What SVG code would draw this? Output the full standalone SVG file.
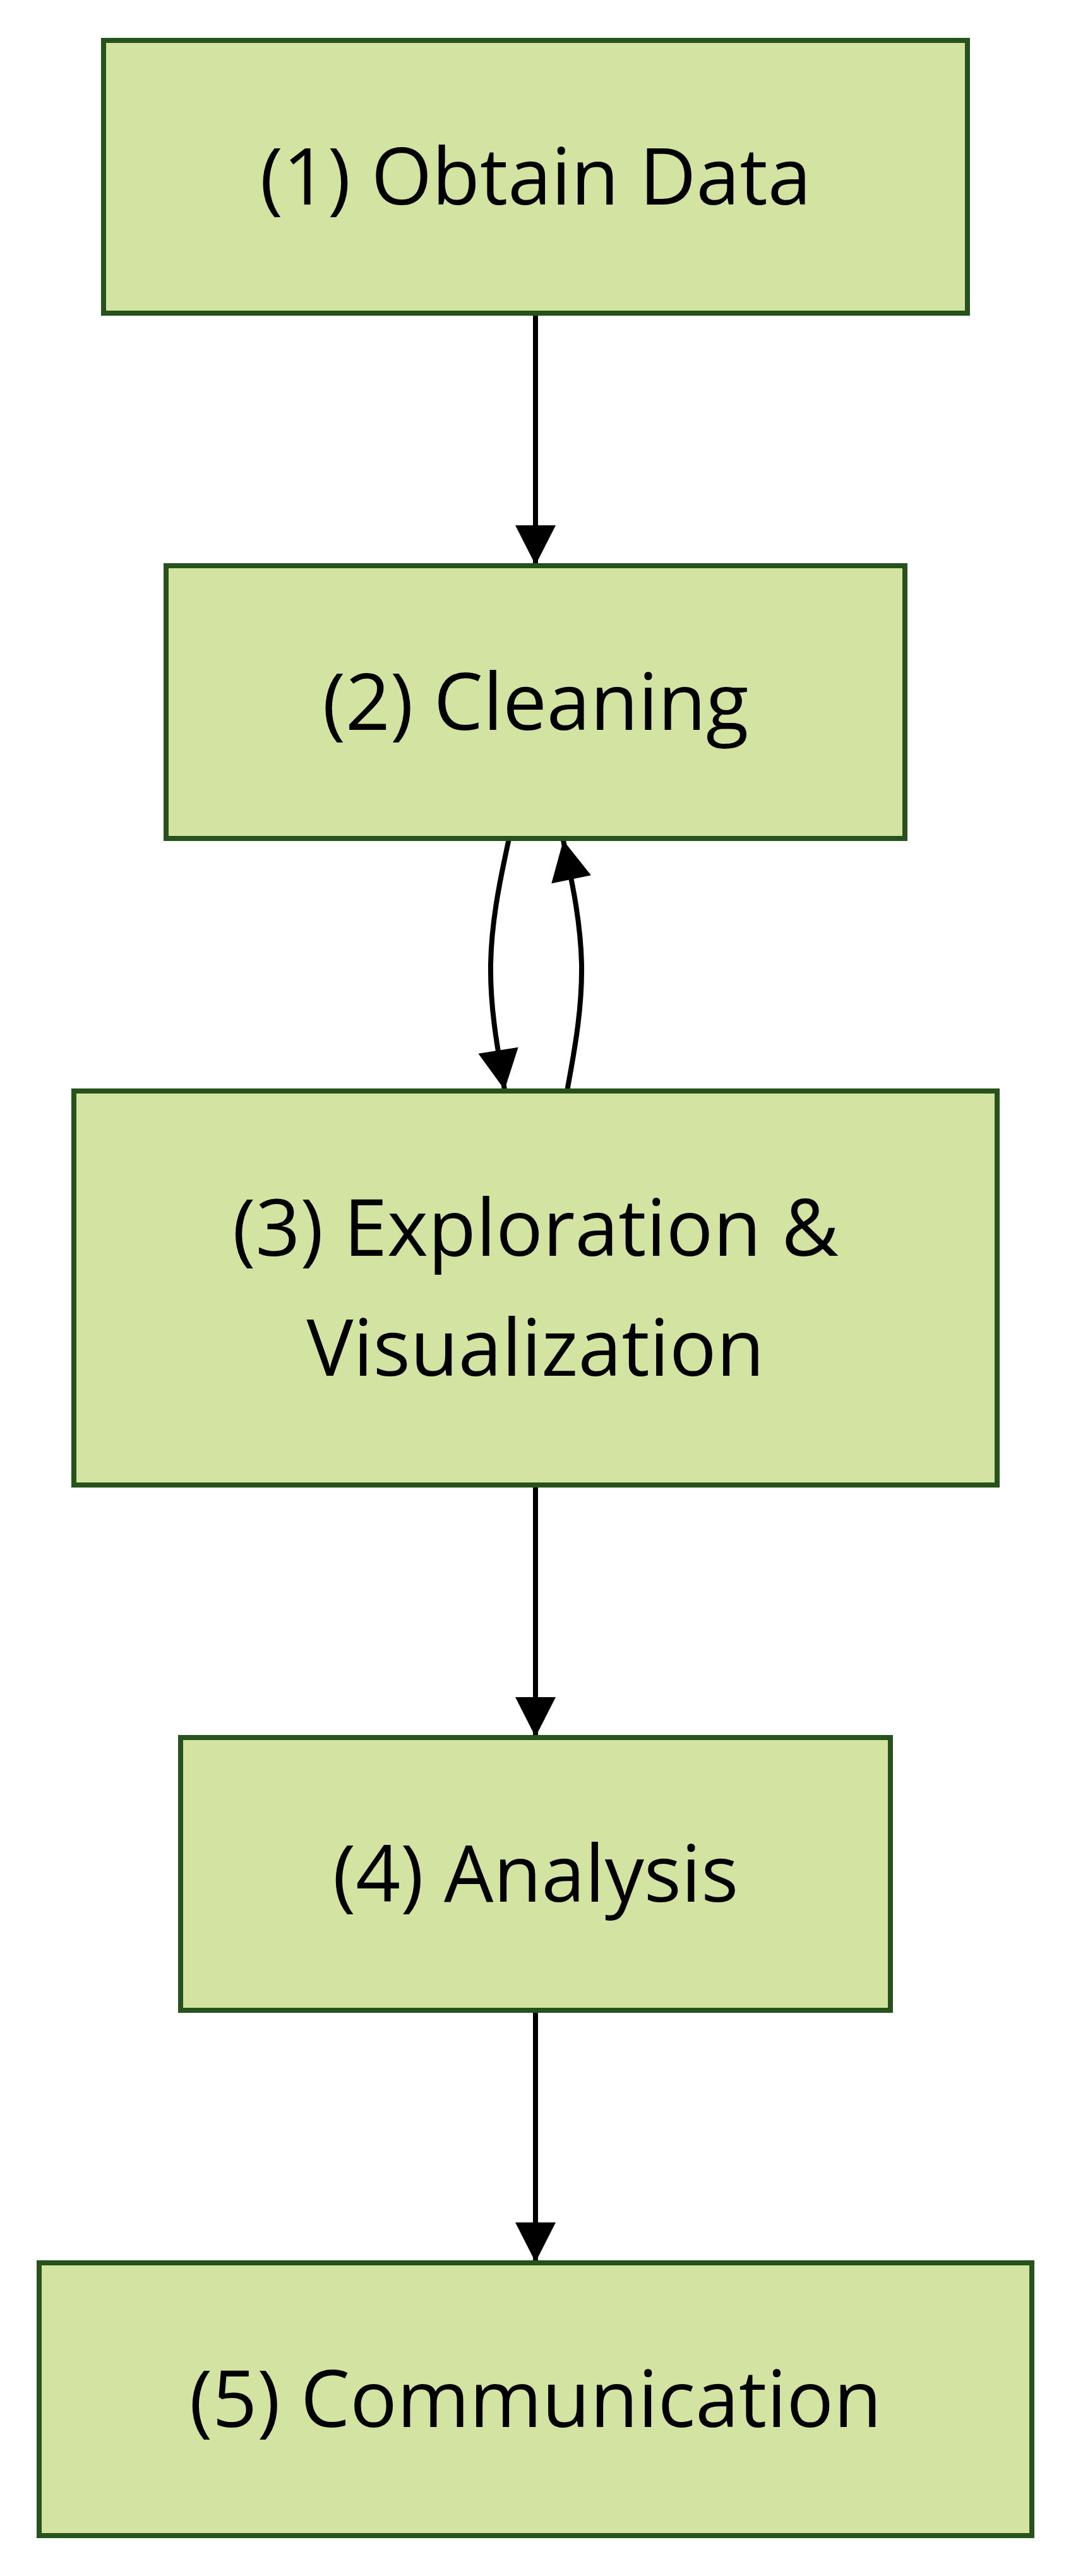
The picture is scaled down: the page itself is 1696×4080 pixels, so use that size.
<svg xmlns="http://www.w3.org/2000/svg" width="1696" height="4080" viewBox="0 0 1696 4080">
<style>
.node rect{fill:#d3e3a1;stroke:#27521b;stroke-width:8}
.node text{font-family:"Open Sans","Noto Sans","Liberation Sans",sans-serif;font-size:124px;fill:#000;text-anchor:middle}
.edge{fill:none;stroke:#000;stroke-width:8}
</style>
<defs>
<marker id="arrow" markerUnits="userSpaceOnUse" markerWidth="64" markerHeight="64" refX="63" refY="32" orient="auto" overflow="visible">
<path d="M0,0 L63,32 L0,64 z" fill="#000"/>
</marker>
</defs>
<rect width="1696" height="4080" fill="#fff"/>
<g id="edges">
<path class="edge" d="M848,500 L848,895" marker-end="url(#arrow)"/>
<path class="edge" d="M806,1328 L799,1361.3 C792,1394.7 778,1461.3 777,1528 C776,1594.7 788,1661.3 794,1694.7 L799,1726" marker-end="url(#arrow)"/>
<path class="edge" d="M898,1728 L904,1694.7 C910,1661.3 922,1594.7 921,1528 C919.7,1461.3 905.3,1394.7 898.2,1361.3 L892,1331" marker-end="url(#arrow)"/>
<path class="edge" d="M848,2356 L848,2751" marker-end="url(#arrow)"/>
<path class="edge" d="M848,3188 L848,3583" marker-end="url(#arrow)"/>
</g>
<g id="node1" class="node">
<rect x="164" y="64" width="1368" height="432"/>
<text x="848" y="324">(1) Obtain Data</text>
</g>
<g id="node2" class="node">
<rect x="263" y="896" width="1170" height="432"/>
<text x="848" y="1156">(2) Cleaning</text>
</g>
<g id="node3" class="node">
<rect x="117" y="1728" width="1462" height="624"/>
<text x="848" y="1989">(3) Exploration &amp;</text>
<text x="848" y="2179">Visualization</text>
</g>
<g id="node4" class="node">
<rect x="286" y="2752" width="1124" height="432"/>
<text x="848" y="3012">(4) Analysis</text>
</g>
<g id="node5" class="node">
<rect x="62" y="3584" width="1572" height="432"/>
<text x="848" y="3844">(5) Communication</text>
</g>
</svg>
